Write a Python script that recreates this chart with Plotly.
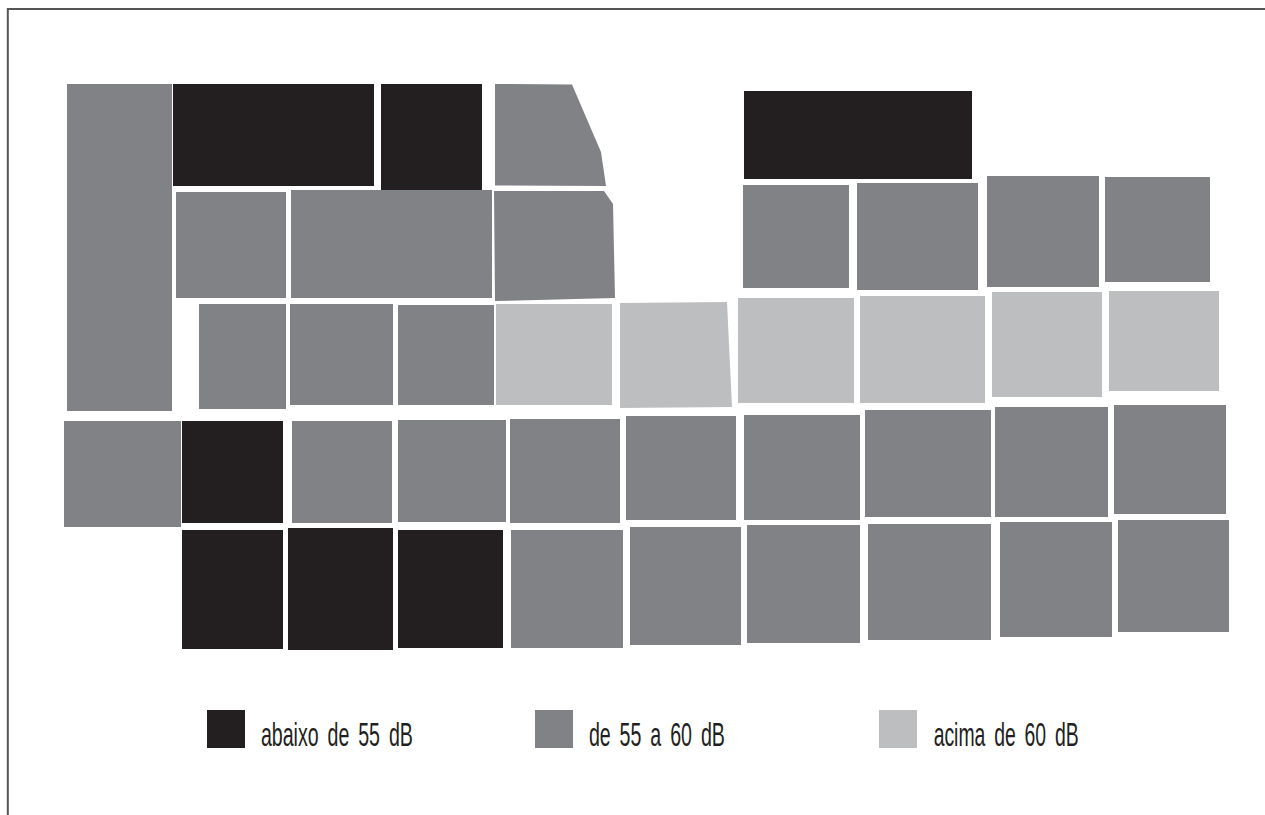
import json
import plotly.graph_objects as go

COLORS = {"dark": "#231f20", "mid": "#808285", "light": "#bcbec0"}
LABELS = {"dark": "abaixo de 55 dB", "mid": "de 55 a 60 dB", "light": "acima de 60 dB"}

# Blocks: (x0, x1, y0, y1) in image units
dark_blocks = [
    (173, 374, 84, 186), (381, 482, 84, 190), (744, 972, 91, 179),
    (182, 283, 421, 523), (182, 283, 530, 649), (288, 393, 528, 650), (398, 503, 530, 648),
]
mid_blocks = [
    (67, 172, 84, 411), (176, 286, 192, 298), (291, 492, 190, 298),
    (743, 849, 185, 288), (857, 978, 183, 290), (987, 1099, 176, 287), (1105, 1210, 177, 282),
    (199, 286, 304, 409), (290, 393, 304, 405), (398, 494, 305, 405),
    (64, 181, 421, 527), (292, 392, 421, 523), (398, 506, 420, 522), (510, 620, 419, 523),
    (626, 736, 416, 520), (744, 860, 415, 520), (865, 991, 410, 517), (995, 1108, 407, 517),
    (1114, 1226, 405, 514),
    (511, 623, 530, 648), (630, 741, 527, 645), (747, 860, 525, 643), (868, 991, 524, 640),
    (1000, 1112, 522, 637), (1118, 1229, 520, 632),
]
light_blocks = [
    (496, 612, 304, 405), (738, 854, 298, 403), (860, 985, 296, 403),
    (992, 1102, 292, 397), (1109, 1219, 291, 391),
]
# Irregular blocks as vertex lists
mid_shapes = [
    [(495, 84), (572, 84.5), (601, 152), (606, 186), (495, 185.5)],
    [(494, 191), (604, 191), (613, 204), (615, 298), (495, 301)],
]
light_shapes = [
    [(620, 303), (727, 302), (732, 407), (620, 408)],
]
legend_squares = {"dark": (207, 245), "mid": (535, 573), "light": (879, 917)}
legend_y = (710, 748)
legend_text_span = {"dark": (261, 413), "mid": (589, 725), "light": (933, 1078)}
legend_text_y = 734
frame_x = [1265, 7.8, 7.8]
frame_y = [9, 9, 815]

fig = go.Figure()


def outline(blocks, shapes):
    xs, ys = [], []
    for x0, x1, y0, y1 in blocks:
        xs += [x0, x1, x1, x0, x0, None]
        ys += [y0, y0, y1, y1, y0, None]
    for poly in shapes:
        xs += [p[0] for p in poly] + [poly[0][0], None]
        ys += [p[1] for p in poly] + [poly[0][1], None]
    return xs, ys


for key, blocks, shapes in [
    ("dark", dark_blocks, []),
    ("mid", mid_blocks, mid_shapes),
    ("light", light_blocks, light_shapes),
]:
    x0, x1 = legend_squares[key]
    all_blocks = blocks + [(x0, x1, legend_y[0], legend_y[1])]
    xs, ys = outline(all_blocks, shapes)
    fig.add_trace(go.Scatter(x=xs, y=ys, mode="lines", fill="toself",
                             fillcolor=COLORS[key], line=dict(width=0),
                             name=LABELS[key], hoverinfo="name", showlegend=False))
    t0, t1 = legend_text_span[key]
    fig.add_annotation(x=(t0 + t1) / 2, y=legend_text_y, text=LABELS[key],
                       xanchor="center", yanchor="middle", showarrow=False,
                       font=dict(family="Liberation Sans", size=34, color="#231f20"))

fig.add_trace(go.Scatter(x=frame_x, y=frame_y, mode="lines",
                         line=dict(color="#555555", width=2),
                         hoverinfo="skip", showlegend=False))

fig.update_layout(
    width=1265, height=815, autosize=False,
    margin=dict(l=0, r=0, t=0, b=0),
    paper_bgcolor="white", plot_bgcolor="white",
    xaxis=dict(range=[0, 1265], visible=False, fixedrange=True),
    yaxis=dict(range=[815, 0], visible=False, fixedrange=True),
)
lengths = {LABELS[k]: v[1] - v[0] for k, v in legend_text_span.items()}
post = (
    "document.body.style.margin='0';document.body.style.overflow='hidden';"
    "var L=" + json.dumps(lengths, ensure_ascii=False) + ";"
    "document.querySelectorAll('.annotation-text').forEach(function(t){"
    "var n=L[t.textContent];if(n){t.style.wordSpacing='6px';t.setAttribute('textLength',n);"
    "t.setAttribute('lengthAdjust','spacingAndGlyphs');}});"
)
fig.write_html("out.html", config={"displayModeBar": False}, post_script=post)
